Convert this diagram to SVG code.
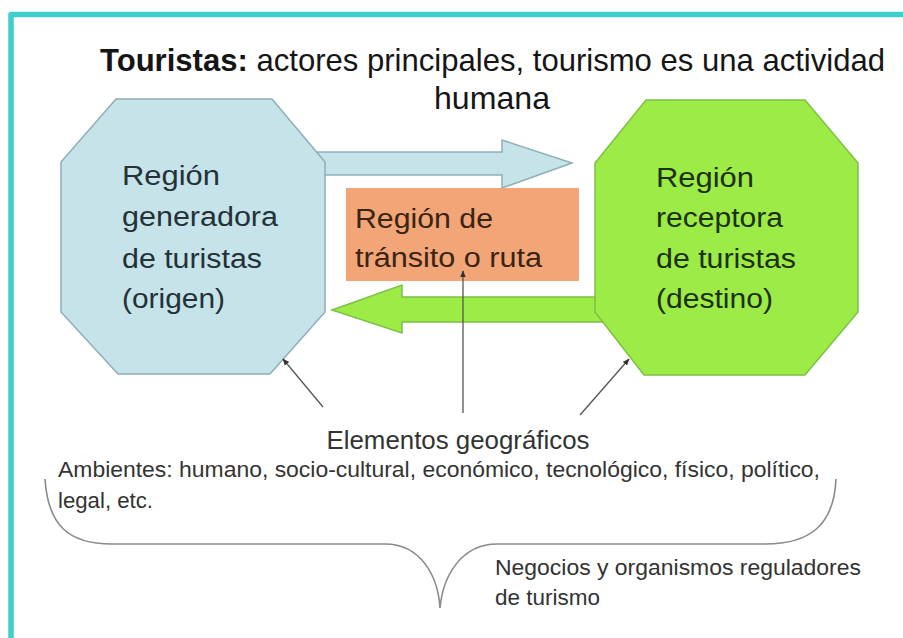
<svg xmlns="http://www.w3.org/2000/svg" width="903" height="638" viewBox="0 0 903 638">
<defs>
<style>
text{font-family:"Liberation Sans",Arial,sans-serif;}
.title{font-size:32px;fill:#151515;}
.node{font-size:27px;}
.small{font-size:22px;fill:#333;}
.conn{stroke:#555;stroke-width:1.3;fill:none;}
</style>
<marker id="ah" viewBox="0 0 10 10" refX="9" refY="5" markerWidth="7" markerHeight="7" orient="auto" markerUnits="userSpaceOnUse">
<path d="M0,1 L10,5 L0,9 Z" fill="#333"/>
</marker>
</defs>
<rect width="903" height="638" fill="#fff"/>
<path d="M11,638 V14.5 H903" fill="none" stroke="#3ccfcc" stroke-width="5.5" stroke-linejoin="round"/>
<g id="title">
<text class="title" x="100" y="71" textLength="785" lengthAdjust="spacingAndGlyphs"><tspan font-weight="bold">Touristas:</tspan> actores principales, tourismo es una actividad</text>
<text class="title" x="492" y="109" text-anchor="middle" textLength="116" lengthAdjust="spacingAndGlyphs">humana</text>
</g>
<g id="connectors">
<path id="arrow-ida" d="M313,152 H502 V140 L572,163 L502,188 V175 H313 Z" fill="#c5e3e8" stroke="#8fb0b8" stroke-width="1.5"/>
<path id="arrow-vuelta" d="M612,297 H402 V285 L332,310 L402,333 V322 H612 Z" fill="#9ceb46" stroke="#7fbf45" stroke-width="1.5"/>
</g>
<g id="origen">
<polygon points="116,99 272,99 325,162 325,312 270,374 118,374 61,312 61,162" fill="#c5e3e8" stroke="#8faeb5" stroke-width="1.5"/>
<g class="node" fill="#243238">
<text x="122" y="185" textLength="98" lengthAdjust="spacingAndGlyphs">Región</text>
<text x="122" y="226" textLength="156" lengthAdjust="spacingAndGlyphs">generadora</text>
<text x="122" y="268" textLength="140" lengthAdjust="spacingAndGlyphs">de turistas</text>
<text x="122" y="308" textLength="103" lengthAdjust="spacingAndGlyphs">(origen)</text>
</g>
</g>
<g id="transito">
<rect x="346" y="188" width="233" height="93" fill="#f2a576"/>
<g class="node" fill="#3a2414">
<text x="355" y="228" textLength="138" lengthAdjust="spacingAndGlyphs">Región de</text>
<text x="355" y="267" textLength="187" lengthAdjust="spacingAndGlyphs">tránsito o ruta</text>
</g>
</g>
<g id="destino">
<polygon points="646,100 805,100 858,163 858,312 805,375 644,375 595,312 595,163" fill="#9ceb46" stroke="#7fbf45" stroke-width="1.5"/>
<g class="node" fill="#1d3010">
<text x="656" y="187" textLength="98" lengthAdjust="spacingAndGlyphs">Región</text>
<text x="656" y="227" textLength="127" lengthAdjust="spacingAndGlyphs">receptora</text>
<text x="656" y="268" textLength="140" lengthAdjust="spacingAndGlyphs">de turistas</text>
<text x="656" y="308" textLength="117" lengthAdjust="spacingAndGlyphs">(destino)</text>
</g>
</g>
<g id="pointers">
<line class="conn" x1="323" y1="407" x2="283" y2="359" marker-end="url(#ah)"/>
<line class="conn" x1="463" y1="413" x2="463" y2="271" marker-end="url(#ah)"/>
<line class="conn" x1="580" y1="415" x2="629" y2="359" marker-end="url(#ah)"/>
</g>
<g id="elementos">
<text x="458" y="449" text-anchor="middle" font-size="25" fill="#333" textLength="263" lengthAdjust="spacingAndGlyphs">Elementos geográficos</text>
</g>
<g id="ambientes">
<text class="small" x="58" y="477" textLength="762" lengthAdjust="spacingAndGlyphs">Ambientes: humano, socio-cultural, económico, tecnológico, físico, político,</text>
<text class="small" x="58" y="508" textLength="95" lengthAdjust="spacingAndGlyphs">legal, etc.</text>
</g>
<g id="brace">
<path d="M45,479 C48,525 68,544 112,544 L385,544 C420,544 438,575 440,608 C443,575 462,544 497,544 L765,544 C810,544 834,525 836,479" fill="none" stroke="#8a8a8a" stroke-width="1.6"/>
</g>
<g id="negocios">
<text class="small" x="495" y="575" textLength="366" lengthAdjust="spacingAndGlyphs">Negocios y organismos reguladores</text>
<text class="small" x="495" y="605" textLength="105" lengthAdjust="spacingAndGlyphs">de turismo</text>
</g>
</svg>
